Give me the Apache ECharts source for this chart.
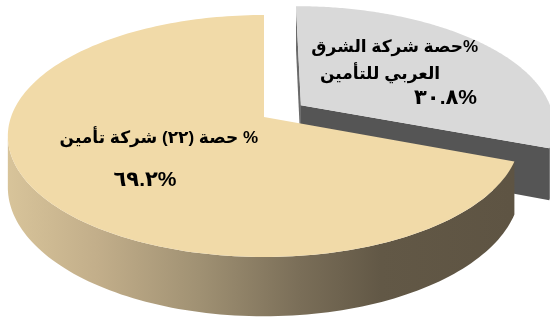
<!DOCTYPE html>
<html lang="ar">
<head>
<meta charset="utf-8">
<script src="https://cdn.jsdelivr.net/npm/echarts@6/dist/echarts.min.js"></script>
<style>
  html, body { margin: 0; background: #fff; }
  #main { width: 550px; height: 318px; }
</style>
</head>
<body>
<div id="main"></div>
<script>
// slices, clockwise from 12 o'clock
const categories = ['حصة شركة الشرق العربي للتأمين', 'حصة (٢٢) شركة تأمين']
const shares = [30.8, 69.2]
const shareLabels = ['٣٠.٨%', '٦٩.٢%']
const labelLines = [['%حصة شركة الشرق', 'العربي للتأمين'], ['% حصة (٢٢) شركة تأمين']]

// how the disc is seen
const CX = 264, CY = 117, RX = 253, RY = 118, P = 0.157, DEPTH = 50
const CAM = 1 / P

const beigeWall = new echarts.graphic.LinearGradient(7, 0, 512, 0, [
  { offset: 0, color: '#D8C49A' },
  { offset: 0.18, color: '#C2AE8A' },
  { offset: 0.38, color: '#A09173' },
  { offset: 0.58, color: '#7A6E58' },
  { offset: 0.74, color: '#625846' },
  { offset: 1, color: '#5E5443' },
], true)

const sliceLook = [
  { top: '#D9D9D9', wall: '#575757', cut: ['#6A6A6A', '#555555'], explode: 0.18 },
  { top: '#F1DAA8', wall: beigeWall, cut: ['#6E634F', '#6E634F'], explode: 0 },
]

function proj(X, Z, down) {
  const w = 1 + P * Z
  return [CX + RX * X / w, CY - RY * Z / w + DEPTH * down / w]
}

function renderSlice(params, api) {
  const i = params.dataIndex
  const total = shares.reduce((a, b) => a + b, 0)
  let before = 0
  for (let k = 0; k < i; k++) before += shares[k]
  const a0 = before / total * 2 * Math.PI
  const a1 = (before + api.value(1)) / total * 2 * Math.PI
  const look = sliceLook[i]
  const mid = (a0 + a1) / 2
  const ox = look.explode * Math.sin(mid)
  const oz = look.explode * Math.cos(mid)
  const rim = (t, down) => proj(ox + Math.sin(t), oz + Math.cos(t), down)
  const apex = (down) => proj(ox, oz, down)
  const children = []

  // the two cut faces
  const cuts = [[a0, -1], [a1, 1]]
  for (let c = 0; c < 2; c++) {
    const t = cuts[c][0], s = cuts[c][1]
    const nx = s * Math.cos(t), nz = -s * Math.sin(t)
    if (-ox * nx + (-CAM - oz) * nz > 0.01) {
      children.push({
        type: 'polygon',
        shape: { points: [apex(0), rim(t, 0), rim(t, 1), apex(1)] },
        style: { fill: look.cut[c] },
      })
    }
  }

  // outer wall, only the part facing the viewer
  const steps = 180
  let run = []
  const flush = () => {
    if (run.length > 1) {
      const pts = run.map(t => rim(t, 0)).concat(run.slice().reverse().map(t => rim(t, 1)))
      children.push({ type: 'polygon', shape: { points: pts }, style: { fill: look.wall } })
    }
    run = []
  }
  for (let k = 0; k <= steps; k++) {
    const t = a0 + (a1 - a0) * k / steps
    const X = ox + Math.sin(t), Z = oz + Math.cos(t)
    const vis = -X * Math.sin(t) + (-CAM - Z) * Math.cos(t)
    if (vis > 0) run.push(t)
    else flush()
  }
  flush()

  // top face
  const top = [apex(0)]
  for (let k = 0; k <= steps; k++) top.push(rim(a0 + (a1 - a0) * k / steps, 0))
  children.push({ type: 'polygon', shape: { points: top }, style: { fill: look.top } })

  return { type: 'group', children }
}

const rtl = s => '\u202B' + s + '\u202C'
const family = 'Arial, "DejaVu Sans", sans-serif'
function label(text, x, y, align, size) {
  return {
    type: 'text', x, y, z: 10,
    style: {
      text, textAlign: align, align, textVerticalAlign: 'middle', verticalAlign: 'middle',
      fontSize: size, fontWeight: 'bold', fontFamily: family, fill: '#000',
    },
  }
}

const chart = echarts.init(document.getElementById('main'))
chart.setOption({
  backgroundColor: '#fff',
  animation: false,
  series: [{
    type: 'custom',
    name: 'share',
    coordinateSystem: 'none',
    silent: true,
    renderItem: renderSlice,
    data: shares.map((v, i) => ({ name: categories[i], value: [i, v] })),
  }],
  graphic: [
    label(rtl(labelLines[0][0]), 478, 47, 'right', 17),
    label(rtl(labelLines[0][1]), 320, 74, 'left', 17),
    label(shareLabels[0], 477, 98, 'right', 21),
    label(rtl(labelLines[1][0]), 258, 138, 'right', 17),
    label(shareLabels[1], 145, 180, 'center', 21),
  ],
})
</script>
</body>
</html>
